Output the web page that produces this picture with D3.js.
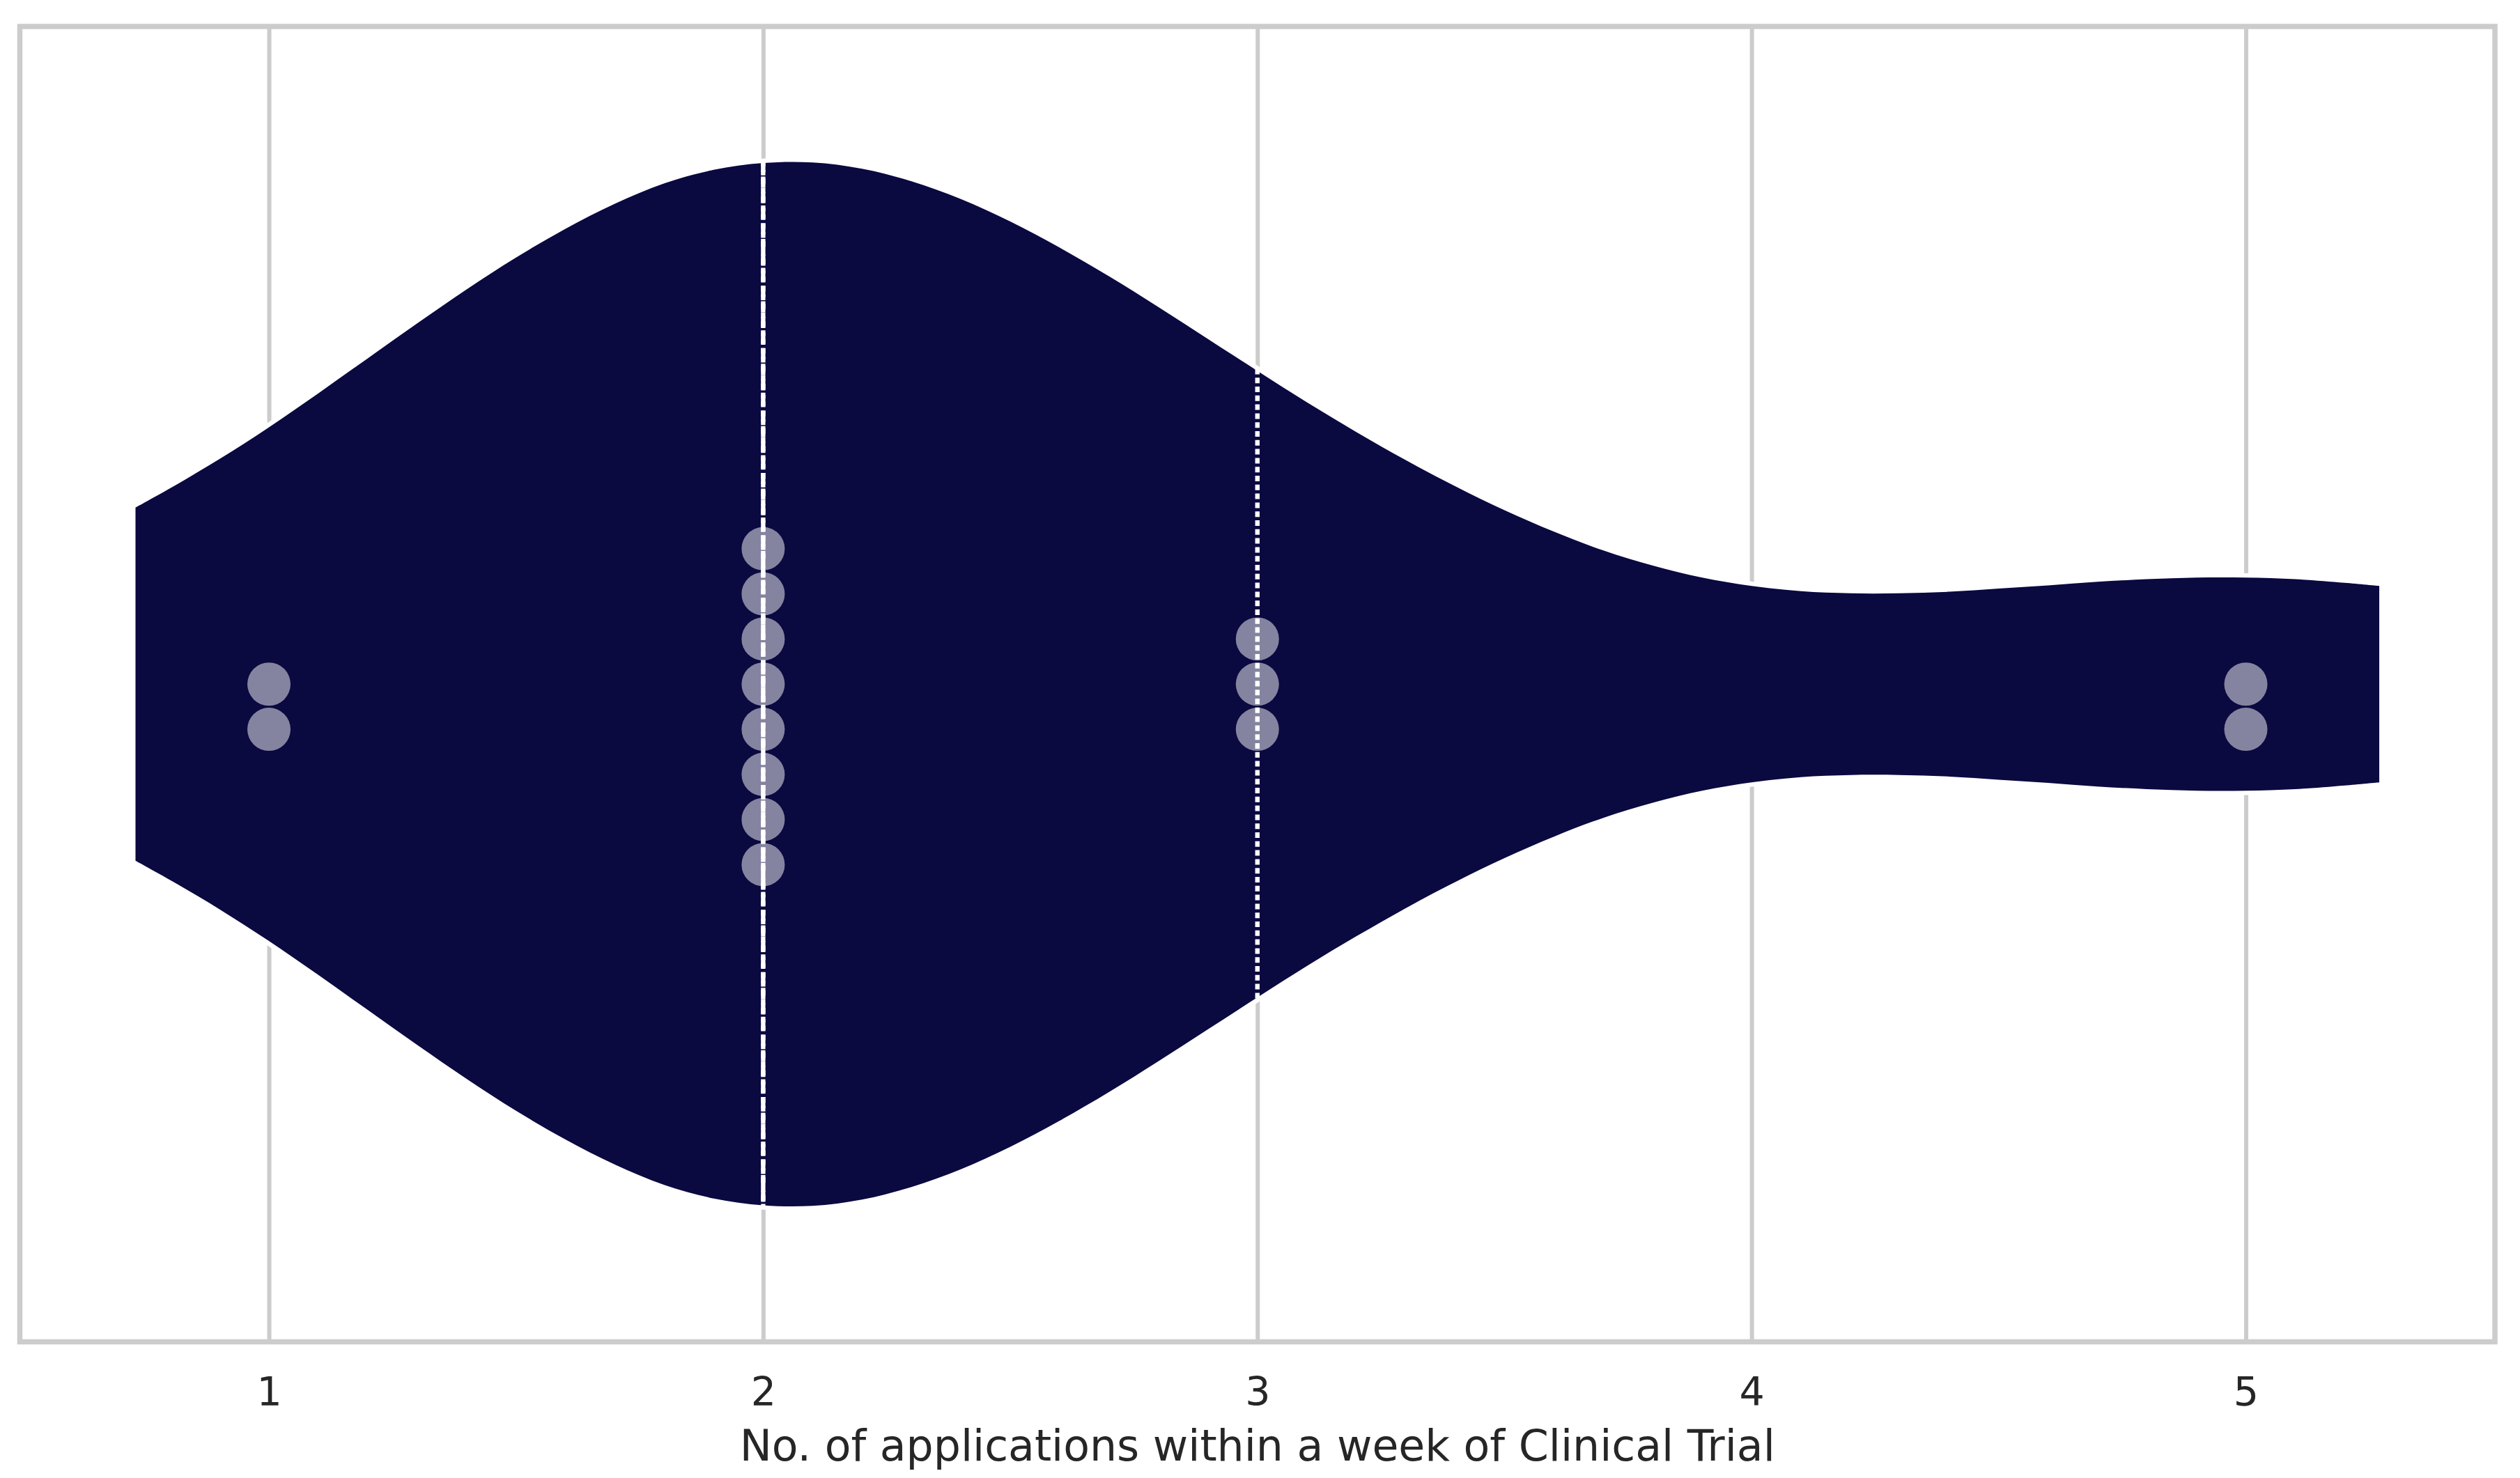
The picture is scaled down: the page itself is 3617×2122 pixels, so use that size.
<!DOCTYPE html>
<html lang="en">
<head>
    <meta charset="UTF-8">
    <title>Violin</title>
    <script src="https://d3js.org/d3.v7.min.js"></script>
    <style>
        body {
            margin: 0;
            background: #fff;
            font-family: "DejaVu Sans", sans-serif;
        }
        .grid line {
            stroke: #cccccc;
            stroke-width: 6px;
        }
        .grid text {
            fill: #262626;
            font-size: 57px;
        }
        .label {
            fill: #262626;
            font-size: 61.7px;
        }
    </style>
</head>
<body>
    <svg width="3617" height="2122"></svg>
    <script>
        // raw observations (one dot each)
        var observations = [1, 1, 2, 2, 2, 2, 2, 2, 2, 2, 3, 3, 3, 5, 5];
        var xTicks = [1, 2, 3, 4, 5];
        var xDomain = [0.496, 5.504];

        // violin outline: value -> relative density (peak = 1)
        var violinValues = [0.73, 0.8, 0.9, 1.0, 1.1, 1.2, 1.3, 1.4, 1.5, 1.6, 1.7, 1.8, 1.9, 2.0,
            2.1, 2.2, 2.3, 2.4, 2.5, 2.6, 2.7, 2.8, 2.9, 3.0, 3.1, 3.2, 3.3, 3.4, 3.5, 3.6, 3.7, 3.8, 3.9,
            4.0, 4.1, 4.2, 4.3, 4.4, 4.5, 4.6, 4.7, 4.8, 4.9, 5.0, 5.1, 5.2, 5.27];
        var violinDensity = [0.338, 0.375, 0.431, 0.492, 0.557, 0.624, 0.691, 0.756, 0.817, 0.872, 0.920, 0.959, 0.985, 0.998,
            0.999, 0.987, 0.963, 0.929, 0.886, 0.836, 0.781, 0.722, 0.661, 0.600, 0.540, 0.483, 0.429, 0.379, 0.333, 0.292, 0.256, 0.227, 0.204,
            0.188, 0.178, 0.174, 0.174, 0.177, 0.183, 0.189, 0.196, 0.201, 0.204, 0.204, 0.201, 0.194, 0.188];

        var xLabel = "No. of applications within a week of Clinical Trial";

        var margin = {top: 38, right: 36, bottom: 195.5, left: 28.5},
            width = 3617 - margin.left - margin.right,
            height = 2122 - margin.top - margin.bottom;

        var x = d3.scaleLinear().domain(xDomain).range([0, width]);
        var cy = height / 2;
        var halfWidth = d3.scaleLinear().domain([0, 1]).range([0, 0.397 * height]);
        var densityAt = d3.scaleLinear().domain(violinValues).range(violinDensity);

        var svg = d3.select("svg")
          .append("g")
            .attr("transform", "translate(" + margin.left + "," + margin.top + ")");

        // grid + tick labels
        var grid = svg.append("g")
            .attr("class", "grid")
            .attr("transform", "translate(0," + height + ")")
            .call(d3.axisBottom(x).tickValues(xTicks).tickFormat(d3.format("d"))
                .tickSize(-height).tickSizeOuter(0));
        grid.select(".domain").remove();
        grid.selectAll("text")
            .attr("y", 91.5)
            .attr("dy", 0)
            .style("font-family", "DejaVu Sans");

        // violin body, white edge drawn under the fill so it only hides the grid
        var area = d3.area()
            .x(function(d, i) { return x(violinValues[i]); })
            .y0(function(d) { return cy - halfWidth(d); })
            .y1(function(d) { return cy + halfWidth(d); })
            .curve(d3.curveCatmullRom.alpha(0.5));

        svg.append("path")
            .datum(violinDensity)
            .attr("d", area)
            .attr("fill", "#0a0940")
            .attr("stroke", "#fff")
            .attr("stroke-width", 12.8)
            .attr("stroke-linejoin", "miter")
            .style("paint-order", "stroke");

        // quartile lines
        var sorted = observations.slice().sort(d3.ascending);
        var quarts = [
            {v: d3.quantile(sorted, 0.25), dash: "8,4.8"},
            {v: d3.quantile(sorted, 0.5), dash: "16,6.4"},
            {v: d3.quantile(sorted, 0.75), dash: "8,4.8"}
        ];
        svg.append("g")
            .selectAll("line")
            .data(quarts)
          .enter().append("line")
            .attr("x1", function(d) { return x(d.v); })
            .attr("x2", function(d) { return x(d.v); })
            .attr("y1", function(d) { return cy - halfWidth(densityAt(d.v)) - 3; })
            .attr("y2", function(d) { return cy + halfWidth(densityAt(d.v)) + 3; })
            .attr("stroke", "#fff")
            .attr("stroke-width", 6.4)
            .attr("stroke-dasharray", function(d) { return d.dash; });

        // swarm: first dot on centre, then below, above, below...
        var r = 31, step = 64.8;
        var seen = {};
        var dots = observations.map(function(v) {
            var i = seen[v] = (seen[v] === undefined ? 0 : seen[v] + 1);
            var k = i === 0 ? 0 : (i % 2 ? (i + 1) / 2 : -i / 2);
            return {v: v, k: k};
        });
        svg.append("g")
            .selectAll("circle")
            .data(dots)
          .enter().append("circle")
            .attr("cx", function(d) { return x(d.v); })
            .attr("cy", function(d) { return cy + d.k * step; })
            .attr("r", r)
            .attr("fill", "#fff")
            .attr("fill-opacity", 0.5);

        // frame
        svg.append("rect")
            .attr("width", width)
            .attr("height", height)
            .attr("fill", "none")
            .attr("stroke", "#cccccc")
            .attr("stroke-width", 7.5);

        svg.append("text")
            .attr("class", "label")
            .attr("x", width / 2)
            .attr("y", 2096.7 - margin.top)
            .style("text-anchor", "middle")
            .text(xLabel);
    </script>
</body>
</html>
